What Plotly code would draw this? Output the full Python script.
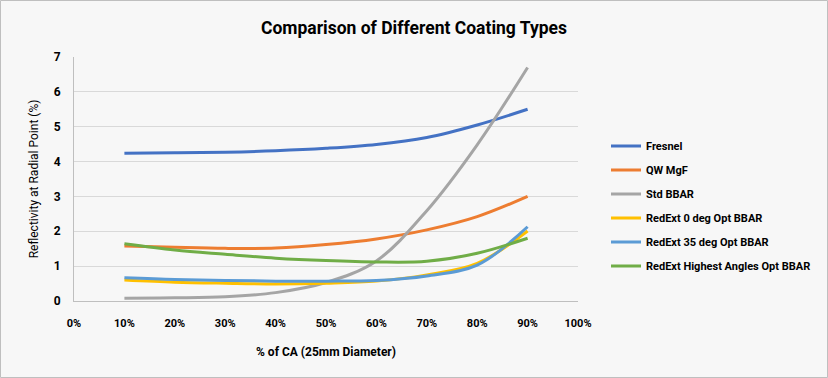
import plotly.graph_objects as go

x_pct = [10, 20, 30, 40, 50, 60, 70, 80, 90]
fresnel = [4.24, 4.25, 4.27, 4.31, 4.38, 4.49, 4.69, 5.05, 5.50]
qw_mgf = [1.58, 1.54, 1.51, 1.52, 1.62, 1.78, 2.04, 2.42, 3.00]
std_bbar = [0.08, 0.09, 0.12, 0.24, 0.53, 1.15, 2.59, 4.48, 6.70]
redext_0 = [0.60, 0.54, 0.51, 0.49, 0.51, 0.57, 0.75, 1.08, 2.01]
redext_35 = [0.67, 0.62, 0.59, 0.57, 0.57, 0.59, 0.72, 1.03, 2.13]
redext_high = [1.64, 1.46, 1.34, 1.23, 1.16, 1.12, 1.14, 1.37, 1.80]

names = ["Fresnel", "QW MgF", "Std BBAR", "RedExt 0 deg Opt BBAR",
         "RedExt 35 deg Opt BBAR", "RedExt Highest Angles Opt BBAR"]
series = [fresnel, qw_mgf, std_bbar, redext_0, redext_35, redext_high]
colors = ["#4472C4", "#ED7D31", "#A5A5A5", "#FFC000", "#5B9BD5", "#70AD47"]

FONT = "Roboto, Liberation Sans, sans-serif"
W, H = 828, 378
ML, MR, MT, MB = 74, 250, 57, 77


def f(size, color="#000000", weight="bold"):
    return dict(family=FONT, size=size, color=color, weight=weight)


fig = go.Figure()
for i, (n, s, c) in enumerate(zip(names, series, colors)):
    fig.add_trace(go.Scatter(
        x=x_pct, y=s, name=n, mode="lines",
        line=dict(color=c, width=3, shape="spline", smoothing=1.0),
        legendgroup=str(i),
    ))

pw = W - ML - MR
ph = H - MT - MB
fig.add_shape(type="rect", xref="paper", yref="paper",
              x0=-(ML - 0.5) / pw, x1=1 + (MR - 0.5) / pw,
              y0=-(MB - 0.5) / ph, y1=1 + (MT - 0.5) / ph,
              line=dict(color="#BFBFBF", width=1), layer="below")

fig.update_layout(
    width=W, height=H,
    margin=dict(l=ML, r=MR, t=MT, b=MB, autoexpand=False),
    paper_bgcolor="#F7F7F7",
    plot_bgcolor="rgba(0,0,0,0)",
    font=f(12),
    title=dict(text="Comparison of Different Coating Types",
               x=0.5, xref="container", xanchor="center",
               y=1 - 28 / H, yref="container", yanchor="middle",
               font=f(17.5)),
    showlegend=True,
    legend=dict(x=(606 - ML) / pw, xanchor="left", y=(301 - 206) / ph, yanchor="middle",
                bgcolor="rgba(0,0,0,0)", traceorder="grouped", tracegroupgap=5,
                font=f(11)),
    xaxis=dict(range=[0, 100], dtick=10, tick0=0, ticksuffix="%",
               automargin=False,
               showgrid=False, zeroline=False, showline=True,
               linecolor="#BFBFBF", linewidth=1, ticks="",
               ticklabelstandoff=12,
               title=dict(text="% of CA (25mm Diameter)", standoff=18, font=f(12)),
               tickfont=f(11)),
    yaxis=dict(range=[0, 7], dtick=1, showgrid=True, gridcolor="#D9D9D9",
               automargin=False,
               gridwidth=1, zeroline=False, showline=True,
               linecolor="#BFBFBF", linewidth=1, ticks="",
               ticklabelstandoff=10,
               title=dict(text="Reflectivity at Radial Point (%)", standoff=12,
                          font=f(12, weight="normal")),
               tickfont=f(12)),
)

fig.write_html("out.html", config={"displayModeBar": False},
               post_script="document.body.style.margin='0';document.body.style.overflow='hidden';")
